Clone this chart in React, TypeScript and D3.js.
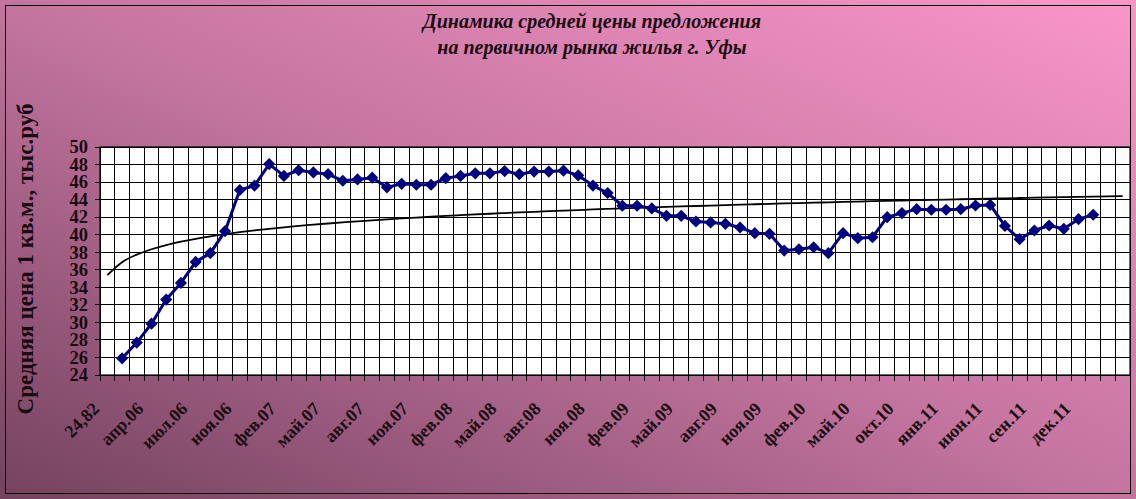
import React from 'react';
import * as d3 from 'd3';

const TITLE_LINES = ['Динамика средней цены предложения', 'на первичном рынка жилья г. Уфы'];
const Y_TITLE = 'Средняя цена 1 кв.м., тыс.руб';

// category axis: 70 categories, labelled every 3rd
const CATEGORY_COUNT = 70;
const LABEL_EVERY = 3;
const TICK_LABELS = [
  '24,82', 'апр.06', 'июл.06', 'ноя.06', 'фев.07', 'май.07', 'авг.07', 'ноя.07',
  'фев.08', 'май.08', 'авг.08', 'ноя.08', 'фев.09', 'май.09', 'авг.09', 'ноя.09',
  'фев.10', 'май.10', 'окт.10', 'янв.11', 'июн.11', 'сен.11', 'дек.11',
];

// average price, thousand rub per sq.m. (categories 1..67)
const FIRST_DATA_CATEGORY = 1;
const PRICES = [
  25.9, 27.7, 29.85, 32.6, 34.5, 36.9, 37.9, 40.4, 45.1, 45.6,
  48.05, 46.7, 47.35, 47.1, 46.9, 46.15, 46.3, 46.5, 45.4, 45.8,
  45.7, 45.7, 46.45, 46.7, 47.0, 47.0, 47.25, 46.9, 47.2, 47.2,
  47.3, 46.76, 45.6, 44.75, 43.3, 43.3, 43.0, 42.15, 42.15, 41.5,
  41.4, 41.24, 40.82, 40.17, 40.1, 38.19, 38.34, 38.57, 37.89, 40.17,
  39.6, 39.71, 42.0, 42.46, 42.91, 42.84, 42.84, 42.91, 43.33, 43.4,
  41.0, 39.49, 40.48, 41.05, 40.67, 41.77, 42.27,
];

// logarithmic trendline y = a*ln(x) + b, x = category index + 1
const TREND_A = 2.12;
const TREND_B = 35.4;

const Y_TICKS = [24, 26, 28, 30, 32, 34, 36, 38, 40, 42, 44, 46, 48, 50];

const W = 1136;
const H = 499;
const PLOT = { left: 100, right: 1130, top: 147, bottom: 375 };
const SERIF = '"Liberation Serif", "Times New Roman", serif';

export default function App() {
  const cats = d3.range(CATEGORY_COUNT);
  const x = d3.scaleBand<number>().domain(cats).range([PLOT.left, PLOT.right]).padding(0);
  const bw = x.bandwidth();
  const cx = (i: number) => (x(i) as number) + bw / 2;
  const y = d3.scaleLinear().domain([Y_TICKS[0], Y_TICKS[Y_TICKS.length - 1]]).range([PLOT.bottom, PLOT.top]);

  const data = PRICES.map((v, i) => ({ c: i + FIRST_DATA_CATEGORY, v }));
  const line = d3.line<{ c: number; v: number }>().x(d => cx(d.c)).y(d => y(d.v));

  const trendPts = cats.map(c => ({ c, v: TREND_A * Math.log(c + 1) + TREND_B }));
  const trendLine = d3.line<{ c: number; v: number }>().x(d => cx(d.c)).y(d => y(d.v)).curve(d3.curveMonotoneX);

  const diamond = d3.symbol().type(d3.symbolSquare).size(74)() as string;
  const boundaries = d3.range(CATEGORY_COUNT + 1).map(i => PLOT.left + i * bw);

  return (
    <svg width={W} height={H} style={{ position: 'absolute', left: 0, top: 0, display: 'block' }}>
      <defs>
        <linearGradient id="bg" x1="0" y1="1" x2="1" y2="0">
          <stop offset="0" stopColor="#74425f" />
          <stop offset="0.5" stopColor="#c4759f" />
          <stop offset="1" stopColor="#fa96ca" />
        </linearGradient>
      </defs>
      <rect x={0} y={0} width={W} height={H} fill="url(#bg)" />
      <rect x={5.5} y={5.5} width={1125} height={488} fill="none" stroke="#000" strokeWidth={1} />

      {TITLE_LINES.map((t, i) => (
        <text key={t} x={592} y={28 + i * 26} textAnchor="middle" fontFamily={SERIF}
          fontWeight="bold" fontStyle="italic" fontSize={20} fill="#1a0a12">{t}</text>
      ))}

      <text transform={`translate(33,${259}) rotate(-90)`} textAnchor="middle" fontFamily={SERIF}
        fontWeight="bold" fontSize={23} fill="#1a0a12">{Y_TITLE}</text>

      {/* plot area */}
      <rect x={PLOT.left} y={PLOT.top} width={PLOT.right - PLOT.left} height={PLOT.bottom - PLOT.top} fill="#fff" />
      <g stroke="#000" strokeWidth={1} shapeRendering="crispEdges">
        {Y_TICKS.map(t => (
          <line key={'h' + t} x1={PLOT.left - 5} x2={PLOT.right} y1={y(t)} y2={y(t)} />
        ))}
        {boundaries.map((bx, i) => (
          <line key={'v' + i} x1={bx} x2={bx} y1={PLOT.top} y2={PLOT.bottom + 6} />
        ))}
      </g>
      <rect x={PLOT.left} y={PLOT.top} width={PLOT.right - PLOT.left} height={PLOT.bottom - PLOT.top}
        fill="none" stroke="#000" strokeWidth={1.2} />

      {Y_TICKS.map(t => (
        <text key={'yl' + t} x={88} y={y(t)} dy="0.34em" textAnchor="end" fontFamily={SERIF}
          fontWeight="bold" fontSize={18.5} fill="#1a0a12">{t}</text>
      ))}

      {TICK_LABELS.map((lab, i) => {
        const c = i * LABEL_EVERY;
        return (
          <g key={'xl' + i} transform={`translate(${cx(c) - 7},${410})`}>
            <text transform="rotate(-45)" textAnchor="end"
              fontFamily={SERIF} fontWeight="bold" fontSize={18} fill="#1a0a12">{lab}</text>
          </g>
        );
      })}

      <path d={trendLine(trendPts) as string} fill="none" stroke="#000" strokeWidth={1.8} />
      <path d={line(data) as string} fill="none" stroke="#000080" strokeWidth={3} strokeLinejoin="round" />
      {data.map(d => (
        <path key={'m' + d.c} d={diamond} transform={`translate(${cx(d.c)},${y(d.v)}) rotate(45)`} fill="#000080" />
      ))}
    </svg>
  );
}
